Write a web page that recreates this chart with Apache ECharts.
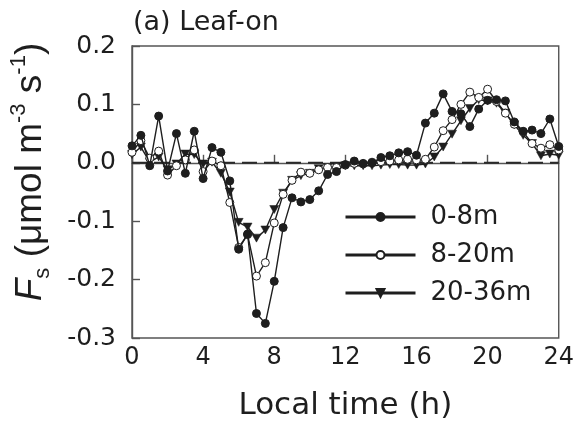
<!DOCTYPE html>
<html>
<head>
<meta charset="utf-8">
<script src="https://cdn.jsdelivr.net/npm/echarts@6/dist/echarts.min.js"></script>
<style>
  html, body { margin: 0; padding: 0; background: #fff; }
  #chart { width: 577px; height: 428px; }
</style>
</head>
<body>
<div id="chart"></div>
<script>
// Half-hourly local time, 0–24 h
const hours = [];
for (let i = 0; i <= 48; i++) hours.push(i / 2);

// Storage flux F_s (µmol m-3 s-1) by height layer
const layer0to8 = [
  0.029, 0.047, -0.005, 0.080, -0.014, 0.050, -0.018, 0.054, -0.027, 0.026,
  0.018, -0.031, -0.148, -0.122, -0.258, -0.275, -0.203, -0.111, -0.060, -0.067,
  -0.063, -0.048, -0.020, -0.015, -0.003, 0.003, -0.001, 0.000, 0.009, 0.012,
  0.017, 0.019, 0.013, 0.068, 0.085, 0.118, 0.088, 0.084, 0.062, 0.092,
  0.107, 0.108, 0.106, 0.070, 0.054, 0.056, 0.050, 0.075, 0.028
];
const layer8to20 = [
  0.018, 0.038, 0.008, 0.020, -0.021, -0.005, 0.005, 0.022, -0.015, 0.003,
  -0.005, -0.068, -0.145, -0.123, -0.194, -0.171, -0.103, -0.054, -0.030, -0.016,
  -0.018, -0.012, -0.008, -0.008, -0.004, -0.001, -0.002, 0.001, 0.002, 0.003,
  0.005, 0.006, 0.005, 0.006, 0.027, 0.055, 0.074, 0.100, 0.121, 0.112,
  0.126, 0.105, 0.085, 0.066, 0.053, 0.033, 0.025, 0.031, 0.022
];
const layer20to36 = [
  0.014, 0.027, 0.001, 0.010, -0.012, -0.002, 0.015, 0.014, -0.002, 0.001,
  -0.018, -0.050, -0.102, -0.110, -0.129, -0.115, -0.080, -0.052, -0.030, -0.022,
  -0.018, -0.010, -0.008, -0.007, -0.005, -0.005, -0.005, -0.005, -0.004, -0.003,
  -0.003, -0.004, -0.004, -0.002, 0.010, 0.027, 0.049, 0.072, 0.093, 0.108,
  0.106, 0.102, 0.085, 0.065, 0.047, 0.033, 0.012, 0.015, 0.013
];

// Zero reference line across the day
const zeroLine = [[0, 0], [24, 0]];

const seriesNames = ['0-8m', '8-20m', '20-36m'];
const xTicks = [0, 4, 8, 12, 16, 20, 24];
const yTicks = [-0.3, -0.2, -0.1, 0.0, 0.1, 0.2];

const FONT = 'DejaVu Sans';
const NAME_FONT = 'Liberation Sans';
const INK = '#1e1e1e';
const FRAME = '#555';
const downTriangle = 'path://M0,0 L10,0 L5,9 Z';

function pairs(vals) { return hours.map((h, i) => [h, vals[i]]); }

const chart = echarts.init(document.getElementById('chart'), null, { renderer: 'canvas' });

const baseSeries = {
  type: 'line',
  symbolSize: 8,
  lineStyle: { color: INK, width: 1.4 },
  animation: false
};

chart.setOption({
  animation: false,
  backgroundColor: '#fff',
  title: {
    text: '(a) Leaf-on',
    left: 128,
    top: 4,
    textStyle: { fontFamily: FONT, fontSize: 27, fontWeight: 'normal', color: INK }
  },
  grid: {
    left: 130, right: 11, top: 46, bottom: 90,
    show: true, borderColor: FRAME, borderWidth: 1.4, backgroundColor: 'transparent'
  },
  legend: {
    orient: 'vertical',
    left: 344,
    top: 202,
    padding: 0,
    itemWidth: 70,
    itemHeight: 10,
    itemGap: 8,
    lineStyle: { width: 3 },
    textStyle: { fontFamily: FONT, fontSize: 26, color: INK, lineHeight: 30, padding: [0, 0, 0, 10] },
    data: seriesNames
  },
  xAxis: {
    type: 'value',
    min: xTicks[0], max: xTicks[xTicks.length - 1], interval: 4,
    name: 'Local time (h)',
    nameLocation: 'middle',
    nameGap: 52,
    nameTextStyle: { fontFamily: FONT, fontSize: 31, color: INK },
    axisLine: { lineStyle: { color: FRAME, width: 1.4 } },
    axisTick: { inside: true, length: 8, lineStyle: { color: FRAME, width: 1.4 } },
    axisLabel: {
      fontFamily: FONT, fontSize: 24, color: INK, margin: 8,
      formatter: v => xTicks.includes(v) ? String(v) : ''
    },
    splitLine: { show: false }
  },
  yAxis: {
    type: 'value',
    min: yTicks[0], max: yTicks[yTicks.length - 1], interval: 0.1,
    name: '{it|F}{sub|s} (μmol m{sup|-3} s{sup|-1})',
    nameLocation: 'middle',
    nameGap: 78,
    nameRotate: 90,
    nameTextStyle: {
      fontFamily: NAME_FONT, fontSize: 37, color: INK, lineHeight: 46,
      padding: [0, 0, 0, 40],
      rich: {
        it: { fontFamily: NAME_FONT, fontSize: 37, fontStyle: 'italic', color: INK },
        sub: { fontFamily: NAME_FONT, fontSize: 22, color: INK, verticalAlign: 'bottom', lineHeight: 46 },
        sup: { fontFamily: NAME_FONT, fontSize: 22, color: INK, verticalAlign: 'top', lineHeight: 46 }
      }
    },
    axisLine: { lineStyle: { color: FRAME, width: 1.4 } },
    axisTick: { inside: true, length: 8, lineStyle: { color: FRAME, width: 1.4 } },
    axisLabel: {
      fontFamily: FONT, fontSize: 25, color: INK, margin: 16,
      formatter: v => v.toFixed(1)
    },
    splitLine: { show: false }
  },
  series: [
    {
      type: 'line',
      name: 'zero',
      data: zeroLine,
      symbol: 'none',
      silent: true,
      lineStyle: { color: '#2a2a2a', width: 2, type: [15, 7], dashOffset: 0 },
      z: 1
    },
    Object.assign({}, baseSeries, {
      name: seriesNames[0],
      data: pairs(layer0to8),
      symbol: 'circle',
      itemStyle: { color: INK, borderColor: INK, borderWidth: 1 },
      z: 4
    }),
    Object.assign({}, baseSeries, {
      name: seriesNames[1],
      data: pairs(layer8to20),
      symbol: 'circle',
      itemStyle: { color: '#fff', borderColor: INK, borderWidth: 1 },
      z: 3
    }),
    Object.assign({}, baseSeries, {
      name: seriesNames[2],
      data: pairs(layer20to36),
      symbol: downTriangle,
      symbolSize: [9, 8],
      itemStyle: { color: INK, borderColor: INK, borderWidth: 0.5 },
      z: 2
    })
  ]
});
</script>
</body>
</html>
